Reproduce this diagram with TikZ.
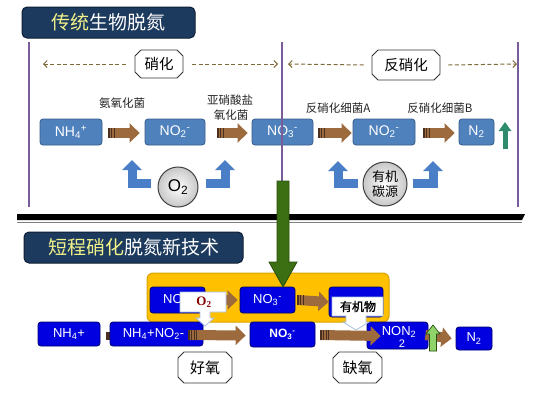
\documentclass[tikz,border=0pt]{standalone}
\usepackage{fontspec}
\setmainfont{Liberation Sans}
\newfontfamily\cjk{Noto Sans CJK SC}
\newfontfamily\cjkb[FakeBold=1.5]{Noto Sans CJK SC}
\newfontfamily\serifrm{Liberation Serif}
\usetikzlibrary{arrows.meta,shapes.misc,shapes.geometric}
\definecolor{boxblue}{HTML}{4F81BD}
\definecolor{boxblueD}{HTML}{385D8A}
\definecolor{deepblue}{HTML}{0000E0}
\definecolor{deepblueD}{HTML}{00006E}
\definecolor{navy}{HTML}{1C3A5E}
\definecolor{navyD}{HTML}{0D1E33}
\definecolor{titleyellow}{HTML}{F2F28A}
\definecolor{arrbrown}{HTML}{9C6A3C}
\definecolor{tailbrown}{HTML}{4A3020}
\definecolor{bentblue}{HTML}{4A7FC8}
\definecolor{dashc}{HTML}{7F6A3A}
\definecolor{purpleline}{HTML}{7A5C9A}
\definecolor{tealgreen}{HTML}{2E8B6E}
\definecolor{darkgreen}{HTML}{3C6E14}
\definecolor{darkgreenD}{HTML}{2A4F0C}
\definecolor{lightgreen}{HTML}{8FD36B}
\definecolor{goldbox}{HTML}{FFC000}
\definecolor{goldboxD}{HTML}{D9A200}
\definecolor{darkred}{HTML}{8B0000}
\definecolor{callline}{HTML}{A8C0DD}
\tikzset{
 topbox/.style={rectangle, rounded corners=3pt, fill=boxblue, draw=boxblueD, line width=0.8pt, text=white, font=\fontsize{14}{14}\selectfont, minimum height=26, inner sep=0pt},
 botbox/.style={rectangle, rounded corners=3pt, fill=deepblue, draw=deepblueD, line width=0.8pt, text=white, font=\fontsize{13}{13}\selectfont, inner sep=0pt},
 lbl/.style={font=\cjk\fontsize{11.5}{13}\selectfont, inner sep=0pt, text=black!85},
 plaque/.style={chamfered rectangle, chamfered rectangle xsep=3pt, chamfered rectangle ysep=3pt, draw=black!80, fill=white, line width=0.8pt, font=\cjk\fontsize{14.5}{15}\selectfont, inner sep=0pt},
 titlebox/.style={rectangle, rounded corners=5pt, fill=navy, draw=navyD, line width=1pt, text=white, font=\cjk\fontsize{19}{20}\selectfont, inner sep=0pt},
 brarr/.style={line width=10pt, draw=arrbrown, -{Triangle[width=19pt,length=10pt]}},
 brtail/.style={line width=10pt, draw=tailbrown, dash pattern=on 1.3pt off 1.3pt},
 bluebent/.style={line width=9pt, draw=bentblue, line join=miter, -{Triangle[width=19pt,length=10pt]}},
 dasharr/.style={draw=dashc, line width=1pt, dash pattern=on 4pt off 2.5pt, -{Straight Barb[length=3.5pt,width=7pt]}},
 vline/.style={draw=purpleline, line width=1.6pt},
 circ/.style={circle, draw=black!75, line width=1pt, shade, inner color=white, outer color=black!22, inner sep=0pt},
 callout/.style={fill=white, draw=callline, line width=0.8pt},
}
\begin{document}
\begin{tikzpicture}[x=1pt,y=-1pt]
\useasboundingbox (0,0) rectangle (540,405);
\fill[white] (0,0) rectangle (540,405);

% ---------- top title ----------
\node[titlebox, minimum width=173, minimum height=31] (t1) at (108.5,22.5) {{\color{titleyellow}传统}生物脱氮};

% ---------- vertical lines ----------
\coordinate (v1a) at (29,42); \coordinate (v1b) at (29,207);
\coordinate (v2a) at (282,42); \coordinate (v2b) at (282,182);
\coordinate (v3a) at (518,42); \coordinate (v3b) at (518,207);

% ---------- plaques and dashed ----------
\node[plaque, minimum width=48, minimum height=28] (xh) at (159,64) {硝化};
\node[plaque, minimum width=68, minimum height=30] (fxh) at (406,65) {反硝化};
\coordinate (d1) at (43,64); \coordinate (d2) at (278,64);
\coordinate (d3) at (288,64); \coordinate (d4) at (517,64);
\draw[dasharr] ([xshift=-9]xh.west) -- (d1);
\draw[dasharr] ([xshift=9]xh.east) -- (d2);
\draw[dasharr] ([xshift=-8]fxh.west) -- (d3);
\draw[dasharr] ([xshift=8]fxh.east) -- (d4);

% ---------- labels ----------
\node[lbl] (l1) at (122,103) {氨氧化菌};
\node[lbl] (l2) at (230,100) {亚硝酸盐};
\node[lbl] (l3) at (231,115.5) {氧化菌};
\node[lbl] (l4) at (338,108.5) {反硝化细菌A};
\node[lbl] (l5) at (440,108.5) {反硝化细菌B};

% ---------- top row ----------
\node[topbox, minimum width=62] (nh4) at (71,132) {NH\textsubscript{4}\textsuperscript{+}};
\node[topbox, minimum width=60] (no2a) at (175,132) {NO\textsubscript{2}\textsuperscript{-}};
\node[topbox, minimum width=61] (no3) at (282.5,132) {NO\textsubscript{3}\textsuperscript{-}};
\node[topbox, minimum width=62] (no2b) at (384,132) {NO\textsubscript{2}\textsuperscript{-}};
\node[topbox, minimum width=35] (n2) at (476.5,132) {N\textsubscript{2}};

\draw[brarr] ([xshift=6,yshift=-1]nh4.east) -- ([xshift=-5,yshift=-1]no2a.west);
\draw[brtail] ([xshift=6,yshift=-1]nh4.east) -- ++(6,0);
\draw[brarr] ([xshift=12,yshift=-1]no2a.east) -- ([xshift=-4,yshift=-1]no3.west);
\draw[brtail] ([xshift=12,yshift=-1]no2a.east) -- ++(6,0);
\draw[brarr] ([xshift=5,yshift=-1]no3.east) -- ([xshift=-1,yshift=-1]no2b.west);
\draw[brtail] ([xshift=5,yshift=-1]no3.east) -- ++(6,0);
\draw[brarr] ([xshift=8,yshift=-1]no2b.east) -- ([xshift=-4,yshift=-1]n2.west);
\draw[brtail] ([xshift=8,yshift=-1]no2b.east) -- ++(6,0);

\coordinate (g1) at (505,149); \coordinate (g2) at (505,122);
\draw[line width=5pt, draw=tealgreen, -{Triangle[width=12pt,length=9pt]}] (g1) -- (g2);

\draw[vline] (v1a) -- (v1b);
\draw[vline] (v2a) -- (v2b);
\draw[vline] (v3a) -- (v3b);

% ---------- circles and bent arrows ----------
\node[circ, minimum size=40, font=\fontsize{17}{17}\selectfont] (o2) at (178,187) {O\textsubscript{2}};
\node[circ, minimum size=44, align=center, font=\cjk\fontsize{13}{15}\selectfont] (org) at (385,184) {有机\\碳源};
\coordinate (b1) at (132,160); \coordinate (b2) at (225,160);
\coordinate (b3) at (338,161); \coordinate (b4) at (433,161);
\draw[bluebent] ([xshift=-7,yshift=4]o2.west) -| (b1);
\draw[bluebent] ([xshift=7,yshift=4]o2.east) -| (b2);
\draw[bluebent] ([xshift=-5,yshift=1]org.west) -| (b3);
\draw[bluebent] ([xshift=5,yshift=1]org.east) -| (b4);

% ---------- separator ----------
\fill[black] (17,214) -- (525,214) -- (522,220) -- (17,220) -- cycle;
\draw[black!50, line width=0.8pt] (17,222.5) -- (522,222.5);

% ---------- bottom title ----------
\node[titlebox, minimum width=219, minimum height=31] (t2) at (133.5,247.5) {{\color{titleyellow}短程硝化}脱氮新技术};

% ---------- yellow group ----------
\node[rectangle, rounded corners=6pt, fill=goldbox, draw=goldboxD, line width=1pt, minimum width=242, minimum height=49, inner sep=0pt] (ybox) at (268,297.5) {};
\node[botbox, minimum width=55, minimum height=26] (no2y) at (177.5,300) {NO\textsubscript{2}\textsuperscript{-}};
\node[botbox, minimum width=55, minimum height=26] (no3y) at (267.5,300) {NO\textsubscript{3}\textsuperscript{-}};
\node[botbox, minimum width=54, minimum height=30] (orgy) at (356,302) {};
\draw[brarr] (no2y.east) -- ([xshift=-2]no3y.west);
\draw[brarr] ([xshift=2]no3y.east) -- (orgy.west);
\draw[brtail] ([xshift=2]no3y.east) -- ++(6,0);

% ---------- big green arrow ----------
\filldraw[fill=darkgreen, draw=darkgreenD, line width=0.8pt] (277,181) -- (289,181) -- (289,262) -- (297,262) -- (283,287) -- (269,262) -- (277,262) -- cycle;

% ---------- bottom row ----------
\node[botbox, minimum width=62, minimum height=24] (nh4b) at (69,334) {NH\textsubscript{4}+};
\fill[tailbrown] (106,332) rectangle (110,340);
\node[botbox, minimum width=93, minimum height=24] (nh4no2) at (156.5,334) {NH\textsubscript{4}+NO\textsubscript{2}-\hspace*{6pt}};
\node[botbox, minimum width=65, minimum height=25, font=\bfseries\fontsize{12}{12}\selectfont] (no3b) at (282.5,334.5) {NO\textsubscript{3}\textsuperscript{-}};
\node[botbox, minimum width=61, minimum height=27] (non2) at (397.5,335.5) {};
\node[botbox, minimum width=36, minimum height=23] (n2b) at (474,338.5) {N\textsubscript{2}};

\draw[brarr] ([xshift=-15,yshift=-1]nh4no2.east) -- ([xshift=-4,yshift=-1]no3b.west);
\draw[brtail] ([xshift=-15,yshift=-1]nh4no2.east) -- ++(9,0);
\draw[brarr] ([xshift=5,yshift=-0.5]no3b.east) -- ([xshift=14,yshift=-0.5]non2.west);
\draw[brtail] ([xshift=5,yshift=-0.5]no3b.east) -- ++(9,0);
\node[text=white, font=\fontsize{13}{13}\selectfont, inner sep=0pt] (non2t) at (399,332) {NON\textsubscript{2}};
\node[text=white, font=\fontsize{11}{11}\selectfont, inner sep=0pt] (non2s) at (402,343.5) {2};
\draw[brarr] ([xshift=-3,yshift=0.5]non2.east) -- ([xshift=-4,yshift=-3]n2b.west |- non2.east);
\filldraw[fill=lightgreen, draw=darkgreenD, line width=0.7pt] (429.5,351) -- (429.5,334) -- (426,334) -- (433,325) -- (440,334) -- (436.5,334) -- (436.5,351) -- cycle;

% ---------- callouts ----------
\draw[callout] (180,292) -- (226,292) -- (226,312) -- (210,312) -- (210,318) -- (214,318) -- (205,326) -- (196,318) -- (200,318) -- (200,312) -- (180,312) -- cycle;
\node[text=darkred, font=\serifrm\bfseries\fontsize{13}{13}\selectfont, inner sep=0pt] (o2c) at (204,302) {O\textsubscript{2}};
\draw[callout] (332,297) -- (383,297) -- (383,316) -- (366,316) -- (366,322) -- (369,322) -- (356,330) -- (343,322) -- (346,322) -- (346,316) -- (332,316) -- cycle;
\node[font=\cjkb\fontsize{12}{12}\selectfont, inner sep=0pt] (orgc) at (358,306.5) {有机物};

% ---------- plaques bottom ----------
\node[plaque, minimum width=54, minimum height=31, font=\cjk\fontsize{15}{15}\selectfont] (hy) at (205,367.5) {好氧};
\node[plaque, minimum width=49, minimum height=31, font=\cjk\fontsize{15}{15}\selectfont] (qy) at (357.5,367.5) {缺氧};
\end{tikzpicture}
\end{document}
